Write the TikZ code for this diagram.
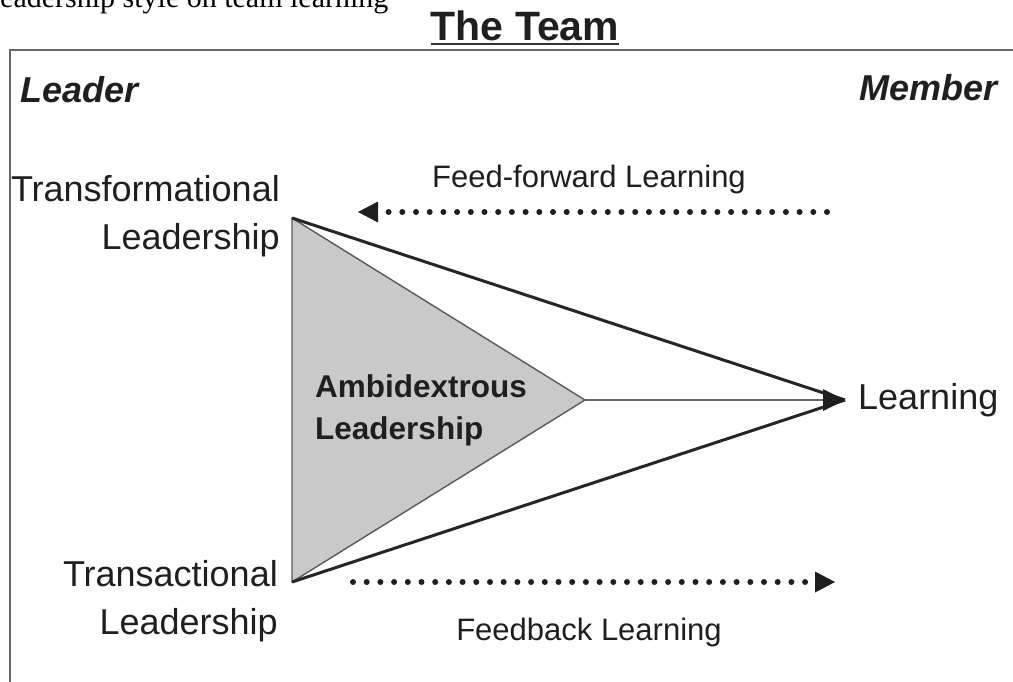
\documentclass[tikz,border=0pt]{standalone}
\usepackage{fontspec}
\setmainfont{Liberation Sans}
\newfontfamily\capserif{Liberation Serif}
\usetikzlibrary{arrows.meta,positioning}

\begin{document}
\begin{tikzpicture}[x=1pt,y=-1pt,
    every node/.style={inner sep=0pt,text=black!88},
    big/.style={font=\fontsize{36}{48}\selectfont},
    small/.style={font=\fontsize{31}{37}\selectfont},
    dotline/.style={black!88,line width=6pt,line cap=round,dash pattern=on 0pt off 13.7pt},
    dottip/.style={-{Triangle[length=20pt,width=21pt,line width'=0pt]}}]
    \useasboundingbox (0,0) rectangle (1013,681);

    % caption line cut at the top
    \node[anchor=base west, font=\capserif\fontsize{30}{36}\selectfont, text=black] (cap) at (0,7) {eadership style on team learning};

    % frame and title
    \draw[black!60, line width=1.6pt] (10,700) -- (10,50) -- (1030,50);
    \node[anchor=base, font=\bfseries\fontsize{41}{48}\selectfont] (team) at (525,40) {The Team};
    \draw[black!80, line width=2pt] ([yshift=-4pt]team.base west) -- ([yshift=-4pt]team.base east);

    \node[anchor=base west, font=\bfseries\itshape\fontsize{36}{44}\selectfont] (leader) at (20,102) {Leader};
    \node[anchor=base east, font=\bfseries\itshape\fontsize{36}{44}\selectfont] (member) at (998,100) {Member};

    % triangle corners
    \coordinate (tl) at (292,218);
    \coordinate (bl) at (292,582);
    \coordinate (apex) at (585,400);
    \coordinate (tip) at (845,400);

    \filldraw[fill=black!21, draw=black!65, line width=1.4pt, line join=round] (tl) -- (apex) -- (bl) -- cycle;

    \node[big, align=right, anchor=north east] (tfl) at (280,175) {Transformational\\Leadership};
    \node[big, align=right, anchor=north east] (tal) at (278,560) {Transactional\\Leadership};
    \node[align=left, anchor=north west, font=\bfseries\fontsize{31.5}{42}\selectfont] (amb) at (315,374) {Ambidextrous\\Leadership};
    \node[big, right=13pt of tip] (learn) {Learning};

    \draw[black!85, line width=3pt] (tl) -- (tip);
    \draw[black!85, line width=3pt] (bl) -- (tip);
    \draw[black!60, line width=1.8pt, -{Triangle[length=22pt,width=22pt,line width'=0pt,color=black!88]}] (apex) -- (tip);

    % learning flows
    \coordinate (ffa) at (827,212);
    \coordinate (ffb) at (358,212);
    \coordinate (fba) at (353,582);
    \coordinate (fbb) at (835,582);
    \draw[dotline, dottip] (ffa) -- (ffb);
    \draw[dotline, dottip] (fba) -- (fbb);
    \node[small, anchor=base] (ff) at (589,187) {Feed-forward Learning};
    \node[small, anchor=base] (fb) at (589,640) {Feedback Learning};
\end{tikzpicture}
\end{document}
